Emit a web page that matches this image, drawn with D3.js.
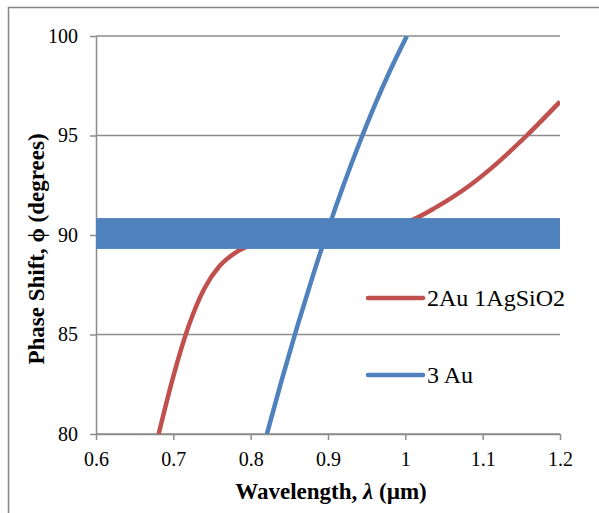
<!DOCTYPE html>
<html>
<head>
<meta charset="utf-8">
<script src="https://cdn.jsdelivr.net/npm/d3@7"></script>
<style>
  body { margin: 0; background: #fff; }
  svg text { font-family: "Liberation Serif", "Times New Roman", Times, "DejaVu Serif", serif; fill: #000; }
</style>
</head>
<body>
<svg width="599" height="513"></svg>
<script>
// data
var xTicks = [0.6, 0.7, 0.8, 0.9, 1.0, 1.1, 1.2];
var yTicks = [80, 85, 90, 95, 100];
var seriesNames = ["2Au 1AgSiO2", "3 Au"];
var seriesColors = ["#C0504D", "#4F81BD"];

var redX = [0.681, 0.70, 0.72, 0.74, 0.76, 0.78, 0.80, 0.83, 0.86, 0.90, 0.95, 0.98, 1.01, 1.04, 1.08, 1.114, 1.157, 1.2];
var redY = [80, 82.9, 85.45, 87.3, 88.45, 89.1, 89.5, 89.82, 90.0, 90.15, 90.3, 90.48, 90.78, 91.4, 92.4, 93.45, 95.0, 96.7];

var blueX = [0.821, 0.84, 0.86, 0.88, 0.90, 0.92, 0.94, 0.96, 0.98, 1.002];
var blueY = [80, 82.69, 85.37, 87.9, 90.28, 92.5, 94.56, 96.48, 98.24, 100];

var bandX = [0.6, 1.2];
var bandLow = 89.3;
var bandHigh = 90.85;

var serif = "'Liberation Serif', 'Times New Roman', Times, 'DejaVu Serif', serif";
var svg = d3.select("svg");

// outer frame (cut off at right and bottom)
svg.append("rect")
    .attr("x", 8.5).attr("y", 7.5)
    .attr("width", 620).attr("height", 540)
    .attr("fill", "none").attr("stroke", "#868686").attr("stroke-width", 1.5);

var x = d3.scaleLinear().domain([0.6, 1.2]).range([96, 560]);
var y = d3.scaleLinear().domain([80, 100]).range([434, 36]);

// gridlines
svg.append("g").selectAll("line")
    .data(yTicks)
    .join("line")
    .attr("x1", x(0.6)).attr("x2", x(1.2))
    .attr("y1", d => y(d)).attr("y2", d => y(d))
    .attr("stroke", "#8c8c8c").attr("stroke-width", 1.5);

var xAxis = svg.append("g")
    .attr("transform", "translate(0," + y(80) + ")")
    .call(d3.axisBottom(x).tickValues(xTicks).tickSize(6).tickSizeOuter(0).tickFormat(d3.format("~g")));

var yAxis = svg.append("g")
    .attr("transform", "translate(" + x(0.6) + ",0)")
    .call(d3.axisLeft(y).tickValues(yTicks).tickSize(6).tickSizeOuter(0));

[xAxis, yAxis].forEach(function(g) {
  g.attr("font-family", serif).attr("font-size", 20);
  g.select(".domain").attr("stroke", "#8c8c8c").attr("stroke-width", 1.5);
  g.selectAll(".tick line").attr("stroke", "#8c8c8c").attr("stroke-width", 1.5);
  g.selectAll(".tick text").attr("fill", "#000");
});
xAxis.selectAll(".tick text").attr("dy", "1.15em");
yAxis.selectAll(".tick text").attr("x", -18);

// clip to plot area
svg.append("clipPath").attr("id", "plot")
  .append("rect").attr("x", x(0.6)).attr("y", y(100)).attr("width", x(1.2) - x(0.6)).attr("height", y(80) - y(100));

var line = d3.line().x(d => x(d[0])).y(d => y(d[1])).curve(d3.curveMonotoneX);

var plot = svg.append("g").attr("clip-path", "url(#plot)");

plot.append("path")
    .datum(d3.zip(redX, redY))
    .attr("d", line)
    .attr("fill", "none").attr("stroke", seriesColors[0]).attr("stroke-width", 4.5);

plot.append("path")
    .datum(d3.zip(blueX, blueY))
    .attr("d", line)
    .attr("fill", "none").attr("stroke", seriesColors[1]).attr("stroke-width", 4.5);

// the 90 degree band
svg.append("rect")
    .attr("x", x(bandX[0])).attr("width", x(bandX[1]) - x(bandX[0]))
    .attr("y", y(bandHigh)).attr("height", y(bandLow) - y(bandHigh))
    .attr("fill", "#4F81BD");

// legend
var legend = svg.append("g").selectAll("g")
    .data(seriesNames)
    .join("g")
    .attr("transform", (d, i) => "translate(368," + (298 + i * 77) + ")");

legend.append("line")
    .attr("x1", 0).attr("x2", 55)
    .attr("stroke", (d, i) => seriesColors[i])
    .attr("stroke-width", 4.5).attr("stroke-linecap", "round");

legend.append("text")
    .attr("x", 59).attr("y", 8)
    .attr("font-family", serif)
    .attr("font-size", 24)
    .text(d => d);

// axis titles
var xTitle = svg.append("text")
    .attr("x", 331).attr("y", 499)
    .attr("text-anchor", "middle")
    .attr("font-family", serif)
    .attr("font-size", 23).attr("font-weight", "bold");
xTitle.append("tspan").text("Wavelength, ");
xTitle.append("tspan").attr("font-style", "italic").text("λ");
xTitle.append("tspan").text(" (µm)");

svg.append("text")
    .attr("transform", "translate(44,249) rotate(-90)")
    .attr("text-anchor", "middle")
    .attr("font-family", serif)
    .attr("font-size", 23).attr("font-weight", "bold")
    .text("Phase Shift, ϕ (degrees)");
</script>
</body>
</html>
